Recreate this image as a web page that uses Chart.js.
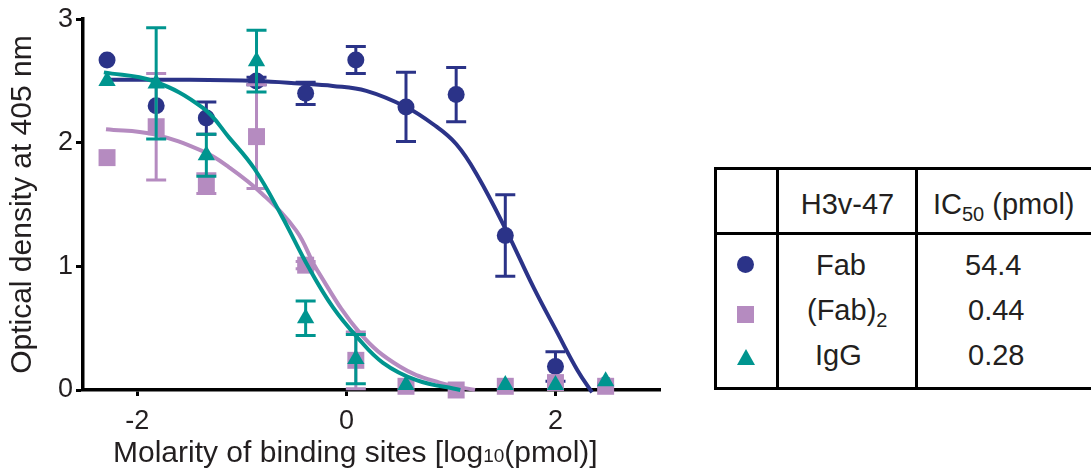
<!DOCTYPE html>
<html>
<head>
  <meta charset="utf-8">
  <title>H3v-47 binding</title>
  <script src="https://cdn.jsdelivr.net/npm/chart.js"></script>
  <style>
    body { margin: 0; background: #fff; font-family: 'Liberation Sans', Arial, sans-serif; color: #231f20; }
    #wrap { position: relative; width: 1091px; height: 472px; overflow: hidden; }
    #chart { position: absolute; left: 0; top: 0; }
    .t { position: absolute; white-space: nowrap; font-size: 29px; line-height: 29px; }
    .c { text-align: center; }
    .sub { font-size: 20px; position: relative; top: 7px; }
    .ln { position: absolute; background: #000; }
    #xtitle { position: absolute; left: 113px; top: 437px; font-size: 30px; line-height: 30px; white-space: nowrap; }
    #xtitle span { font-size: 19px; }
  </style>
</head>
<body>
<div id="wrap">
  <canvas id="chart" width="680" height="472"></canvas>
  <div id="xtitle">Molarity of binding sites [log<span>10</span>(pmol)]</div>

  <!-- table with IC50 values -->
  <div class="ln" style="left:714px; top:167px; width:400px; height:3px"></div>
  <div class="ln" style="left:714px; top:232px; width:400px; height:3px"></div>
  <div class="ln" style="left:714px; top:387px; width:400px; height:3px"></div>
  <div class="ln" style="left:714px; top:167px; width:3px; height:223px"></div>
  <div class="ln" style="left:776px; top:167px; width:3px; height:223px"></div>
  <div class="ln" style="left:915px; top:167px; width:3px; height:223px"></div>

  <div class="t c" style="left:778px; width:139px; top:190px">H3v-47</div>
  <div class="t" style="left:933px; top:190px">IC<span class="sub">50</span> (pmol)</div>

  <div style="position:absolute; left:737px; top:256px; width:17px; height:17px; border-radius:50%; background:#2b3388"></div>
  <div style="position:absolute; left:737px; top:306px; width:17px; height:17px; background:#b58bc0"></div>
  <div style="position:absolute; left:737px; top:349px; width:0; height:0; border-left:9px solid transparent; border-right:9px solid transparent; border-bottom:16px solid #00958f"></div>

  <div class="t" style="left:816px; top:251px">Fab</div>
  <div class="t" style="left:807px; top:296px">(Fab)<span class="sub">2</span></div>
  <div class="t" style="left:815px; top:341px">IgG</div>
  <div class="t" style="left:965px; top:251px">54.4</div>
  <div class="t" style="left:968px; top:296px">0.44</div>
  <div class="t" style="left:968px; top:341px">0.28</div>
</div>

<script>
  // dilution series, log10(pmol)
  const doseX = [-2.29, -1.82, -1.34, -0.86, -0.39, 0.09, 0.57, 1.05, 1.52, 2.0, 2.48];

  const fabY   = [2.67, 2.30, 2.20, 2.50, 2.40, 2.67, 2.29, 2.39, 1.25, 0.19, 0.04];
  const fabErr = [0, 0, 0.13, 0.03, 0.09, 0.11, 0.28, 0.22, 0.33, 0.12, 0];
  const fab2Y   = [1.88, 2.13, 1.67, 2.05, 1.01, 0.24, 0.03, 0.0, 0.03, 0.06, 0.03];
  const fab2Err = [0, 0.43, 0.08, 0.42, 0.03, 0.23, 0, 0, 0, 0, 0];
  const iggY   = [2.50, 2.48, 1.90, 2.66, 0.58, 0.25, 0.04, null, 0.04, 0.04, 0.07];
  const iggErr = [0, 0.45, 0.17, 0.25, 0.14, 0.20, 0, 0, 0, 0, 0];

  // fitted curves
  const fabCurveX = [-2.3, -1.5, -0.86, -0.45, -0.13, 0.19, 0.57, 0.83, 1.05, 1.25, 1.53, 1.79, 2.02, 2.21, 2.35];
  const fabCurveY = [2.51, 2.51, 2.50, 2.48, 2.46, 2.42, 2.29, 2.15, 1.99, 1.74, 1.29, 0.83, 0.46, 0.16, -0.02];
  const fab2CurveX = [-2.3, -1.85, -1.37, -1.12, -0.81, -0.48, -0.28, 0.13, 0.51, 0.89, 1.23];
  const fab2CurveY = [2.11, 2.07, 1.93, 1.80, 1.59, 1.29, 0.97, 0.46, 0.19, 0.06, 0.0];
  const iggCurveX = [-2.32, -1.85, -1.37, -1.12, -0.88, -0.62, -0.36, -0.13, 0.10, 0.35, 0.67, 1.09];
  const iggCurveY = [2.57, 2.50, 2.28, 2.04, 1.79, 1.41, 0.99, 0.67, 0.43, 0.22, 0.08, 0.0];

  const xTicks = [-2, 0, 2];
  const yTicks = [0, 1, 2, 3];

  const NAVY = '#2b3388', PURPLE = '#b58bc0', TEAL = '#00958f', TXT = '#231f20';

  const pts = (xs, ys) => xs.map((x, i) => ({ x: x, y: ys[i] }));

  // draws each dataset's error bars just before its markers
  const errorBars = {
    id: 'errorBars',
    beforeDatasetDraw(chart, args) {
      const ds = chart.data.datasets[args.index];
      if (!ds.yErr) return;
      const ctx = chart.ctx, xs = chart.scales.x, ys = chart.scales.y;
      ctx.save();
      ctx.strokeStyle = ds.backgroundColor;
      ctx.lineWidth = 3;
      ds.data.forEach((p, i) => {
        const e = ds.yErr[i];
        if (!e || p.y == null) return;
        const px = xs.getPixelForValue(p.x);
        const top = ys.getPixelForValue(p.y + e);
        const bot = ys.getPixelForValue(p.y - e);
        ctx.beginPath();
        ctx.moveTo(px, top); ctx.lineTo(px, bot);
        ctx.moveTo(px - 10, top); ctx.lineTo(px + 10, top);
        ctx.moveTo(px - 10, bot); ctx.lineTo(px + 10, bot);
        ctx.stroke();
      });
      ctx.restore();
    }
  };

  Chart.defaults.font.family = "'Liberation Sans', Arial, sans-serif";
  Chart.defaults.color = TXT;

  function curve(xs, ys, color, order) {
    return { data: pts(xs, ys), showLine: true, borderColor: color, borderWidth: 4,
             pointRadius: 0, tension: 0.4, clip: false, order: order };
  }
  function markers(xs, ys, err, color, style, r, order) {
    return { data: pts(xs, ys), yErr: err, showLine: false, pointStyle: style, pointRadius: r,
             backgroundColor: color, borderColor: color, borderWidth: 0, clip: false, order: order };
  }

  new Chart(document.getElementById('chart'), {
    type: 'scatter',
    data: {
      datasets: [
        curve(fabCurveX, fabCurveY, NAVY, 6),
        markers(doseX, fabY, fabErr, NAVY, 'circle', 8.5, 5),
        curve(fab2CurveX, fab2CurveY, PURPLE, 4),
        markers(doseX, fab2Y, fab2Err, PURPLE, 'rect', 12, 3),
        curve(iggCurveX, iggCurveY, TEAL, 2),
        markers(doseX, iggY, iggErr, TEAL, 'triangle', 10, 1)
      ]
    },
    plugins: [errorBars],
    options: {
      responsive: false,
      animation: false,
      layout: { padding: { top: 18, right: 20, left: 0, bottom: 0 } },
      plugins: { legend: { display: false }, tooltip: { enabled: false } },
      scales: {
        x: {
          type: 'linear', min: -2.52, max: 3,
          afterBuildTicks: s => { s.ticks = xTicks.map(v => ({ value: v })); },
          afterFit: s => { s.height = 82; },
          ticks: { font: { size: 27 }, color: TXT, padding: 9, maxRotation: 0, autoSkip: false },
          grid: { drawOnChartArea: false, tickLength: 6, tickWidth: 3, tickColor: '#000' },
          border: { color: '#000', width: 3.5 }
        },
        y: {
          min: 0, max: 3,
          afterBuildTicks: s => { s.ticks = yTicks.map(v => ({ value: v })); },
          afterFit: s => { s.width = 83; },
          ticks: { font: { size: 27 }, color: TXT, padding: 3 },
          grid: { drawOnChartArea: false, tickLength: 7, tickWidth: 3, tickColor: '#000' },
          border: { color: '#000', width: 3.5 },
          title: { display: true, text: 'Optical density at 405 nm', font: { size: 30 }, color: TXT,
                   padding: { top: 5, bottom: 0 } }
        }
      }
    }
  });
</script>
</body>
</html>
